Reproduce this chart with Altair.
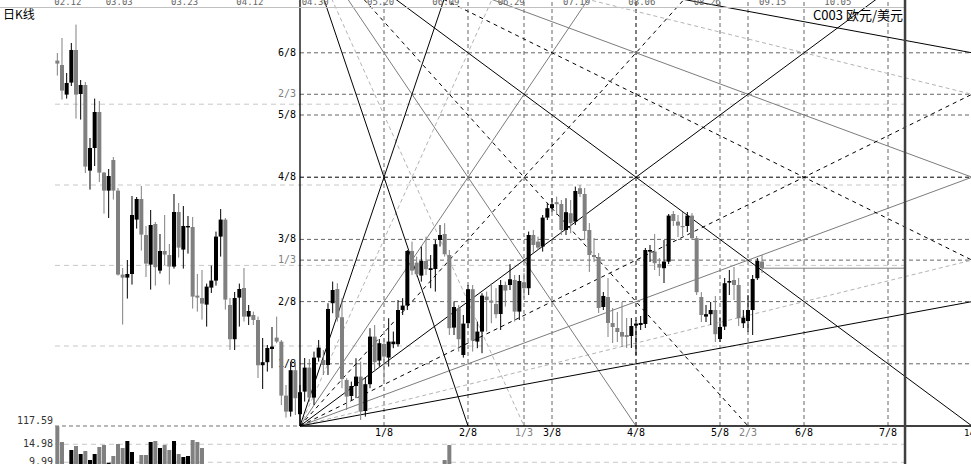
import altair as alt
import pandas as pd

# ---------------- daily bars, EUR/USD ----------------
OPEN = [1.4697, 1.4675, 1.4527, 1.4587, 1.4750, 1.4530, 1.4575, 1.4147, 1.4260, 1.4440,
        1.4137, 1.4047, 1.4200, 1.4047, 1.3627, 1.3612, 1.3630, 1.3902, 1.4005, 1.3825,
        1.3677, 1.3880, 1.3647, 1.3745, 1.3725, 1.3667, 1.3940, 1.3752, 1.3863, 1.3865,
        1.3522, 1.3510, 1.3477, 1.3562, 1.3597, 1.3817, 1.3902, 1.3475, 1.3304, 1.3512,
        1.3560, 1.3417, 1.3425, 1.3400, 1.3174, 1.3189, 1.3255, 1.3312, 1.3292, 1.3022,
        1.2942, 1.3149, 1.2929, 1.3042, 1.3162, 1.3012, 1.3212, 1.3200, 1.3175, 1.3484,
        1.3555, 1.3414, 1.3100, 1.3020, 1.3070, 1.3117, 1.2945, 1.3079, 1.3317, 1.3197,
        1.3280, 1.3212, 1.3279, 1.3279, 1.3450, 1.3472, 1.3745, 1.3687, 1.3622, 1.3695,
        1.3650, 1.3655, 1.3800, 1.3830, 1.3725, 1.3362, 1.3459, 1.3225, 1.3384, 1.3554,
        1.3292, 1.3342, 1.3517, 1.3497, 1.3480, 1.3430, 1.3575, 1.3575, 1.3600, 1.3442,
        1.3589, 1.3559, 1.3825, 1.3792, 1.3767, 1.3912, 1.3959, 1.3989, 1.3980, 1.3850,
        1.3934, 1.3892, 1.4059, 1.4030, 1.3850, 1.3725, 1.3715, 1.3465, 1.3515, 1.3385,
        1.3360, 1.3340, 1.3325, 1.3320, 1.3372, 1.3375, 1.3380, 1.3742, 1.3742, 1.3680,
        1.3659, 1.3692, 1.3930, 1.3892, 1.3870, 1.3870, 1.3922, 1.3809, 1.3515, 1.3417,
        1.3429, 1.3450, 1.3305, 1.3367, 1.3587, 1.3600, 1.3575, 1.3384, 1.3395, 1.3450,
        1.3609, 1.3692]
HIGH = [1.4735, 1.4810, 1.4635, 1.4785, 1.4877, 1.4600, 1.4590, 1.4310, 1.4507, 1.4495,
        1.4140, 1.4155, 1.4215, 1.4060, 1.3660, 1.3700, 1.4020, 1.4015, 1.4070, 1.3870,
        1.3950, 1.3890, 1.3830, 1.3925, 1.3780, 1.4030, 1.3985, 1.3970, 1.3920, 1.3915,
        1.3630, 1.3650, 1.3582, 1.3672, 1.3842, 1.3955, 1.3910, 1.3510, 1.3540, 1.3582,
        1.3660, 1.3475, 1.3442, 1.3417, 1.3310, 1.3275, 1.3365, 1.3417, 1.3300, 1.3075,
        1.3192, 1.3192, 1.3075, 1.3210, 1.3205, 1.3242, 1.3300, 1.3250, 1.3484, 1.3592,
        1.3584, 1.3509, 1.3109, 1.3092, 1.3209, 1.3192, 1.3112, 1.3359, 1.3375, 1.3305,
        1.3309, 1.3409, 1.3342, 1.3500, 1.3509, 1.3750, 1.3792, 1.3717, 1.3767, 1.3817,
        1.3725, 1.3800, 1.3875, 1.3884, 1.3750, 1.3492, 1.3475, 1.3425, 1.3575, 1.3575,
        1.3392, 1.3534, 1.3542, 1.3584, 1.3559, 1.3600, 1.3592, 1.3679, 1.3625, 1.3625,
        1.3634, 1.3842, 1.3850, 1.3817, 1.3925, 1.3984, 1.4010, 1.4017, 1.4000, 1.4009,
        1.4000, 1.4067, 1.4075, 1.4060, 1.3885, 1.3810, 1.3735, 1.3540, 1.3610, 1.3460,
        1.3440, 1.3490, 1.3410, 1.3410, 1.3400, 1.3420, 1.3760, 1.3775, 1.3830, 1.3710,
        1.3800, 1.3930, 1.3945, 1.3925, 1.3940, 1.3940, 1.3935, 1.3820, 1.3540, 1.3475,
        1.3490, 1.3520, 1.3410, 1.3610, 1.3650, 1.3665, 1.3610, 1.3450, 1.3525, 1.3625,
        1.3710, 1.3725]
LOW = [1.4622, 1.4502, 1.4507, 1.4570, 1.4407, 1.4402, 1.4135, 1.4052, 1.4170, 1.4090,
       1.3932, 1.3910, 1.4002, 1.3622, 1.3377, 1.3507, 1.3577, 1.3857, 1.3747, 1.3615,
       1.3552, 1.3572, 1.3632, 1.3675, 1.3577, 1.3657, 1.3712, 1.3657, 1.3732, 1.3457,
       1.3442, 1.3402, 1.3367, 1.3535, 1.3572, 1.3717, 1.3452, 1.3250, 1.3250, 1.3367,
       1.3392, 1.3375, 1.3375, 1.3110, 1.3055, 1.3142, 1.3159, 1.3284, 1.2975, 1.2912,
       1.2917, 1.2925, 1.2870, 1.2992, 1.2992, 1.2975, 1.3192, 1.3125, 1.3125, 1.3434,
       1.3392, 1.3059, 1.2950, 1.3000, 1.3009, 1.2900, 1.2917, 1.3059, 1.3142, 1.3167,
       1.3092, 1.3167, 1.3259, 1.3267, 1.3425, 1.3450, 1.3625, 1.3617, 1.3592, 1.3625,
       1.3559, 1.3542, 1.3767, 1.3717, 1.3325, 1.3325, 1.3242, 1.3212, 1.3359, 1.3242,
       1.3259, 1.3234, 1.3342, 1.3384, 1.3409, 1.3350, 1.3467, 1.3550, 1.3392, 1.3400,
       1.3509, 1.3525, 1.3734, 1.3750, 1.3742, 1.3900, 1.3940, 1.3925, 1.3825, 1.3825,
       1.3834, 1.3875, 1.4015, 1.3800, 1.3640, 1.3690, 1.3435, 1.3450, 1.3315, 1.3285,
       1.3290, 1.3265, 1.3260, 1.3260, 1.3225, 1.3350, 1.3360, 1.3690, 1.3650, 1.3620,
       1.3585, 1.3680, 1.3870, 1.3815, 1.3820, 1.3840, 1.3800, 1.3525, 1.3390, 1.3390,
       1.3375, 1.3290, 1.3290, 1.3350, 1.3525, 1.3500, 1.3370, 1.3360, 1.3340, 1.3325,
       1.3600, 1.3635]
CLOSE = [1.4682, 1.4547, 1.4585, 1.4750, 1.4527, 1.4575, 1.4167, 1.4260, 1.4440, 1.4137,
         1.4047, 1.4120, 1.4047, 1.3627, 1.3612, 1.3630, 1.3925, 1.4005, 1.3827, 1.3682,
         1.3875, 1.3664, 1.3745, 1.3727, 1.3667, 1.3940, 1.3762, 1.3870, 1.3870, 1.3517,
         1.3512, 1.3482, 1.3567, 1.3597, 1.3817, 1.3902, 1.3502, 1.3304, 1.3510, 1.3555,
         1.3417, 1.3445, 1.3400, 1.3174, 1.3189, 1.3260, 1.3267, 1.3292, 1.3022, 1.2942,
         1.3149, 1.3009, 1.3039, 1.3162, 1.3012, 1.3212, 1.3262, 1.3175, 1.3455, 1.3550,
         1.3412, 1.3105, 1.3017, 1.3070, 1.3117, 1.2942, 1.3079, 1.3317, 1.3189, 1.3284,
         1.3217, 1.3292, 1.3292, 1.3450, 1.3472, 1.3745, 1.3647, 1.3629, 1.3695, 1.3654,
         1.3659, 1.3779, 1.3825, 1.3729, 1.3359, 1.3465, 1.3304, 1.3382, 1.3554, 1.3297,
         1.3342, 1.3522, 1.3500, 1.3487, 1.3429, 1.3575, 1.3547, 1.3604, 1.3442, 1.3595,
         1.3559, 1.3825, 1.3775, 1.3762, 1.3912, 1.3959, 1.3979, 1.3979, 1.3850, 1.3939,
         1.3884, 1.4045, 1.4030, 1.3845, 1.3725, 1.3715, 1.3460, 1.3520, 1.3385, 1.3365,
         1.3340, 1.3317, 1.3315, 1.3370, 1.3382, 1.3385, 1.3750, 1.3750, 1.3684, 1.3662,
         1.3692, 1.3922, 1.3895, 1.3872, 1.3864, 1.3922, 1.3809, 1.3539, 1.3425, 1.3429,
         1.3450, 1.3329, 1.3365, 1.3584, 1.3595, 1.3575, 1.3409, 1.3412, 1.3450, 1.3605,
         1.3695, 1.3659]

# volume, only the days that carry a figure
VOL_DAY = [0, 1, 3, 4, 5, 6, 7, 8, 9, 10, 11, 12, 13, 14, 15, 16, 18, 19, 20, 21,
           22, 23, 24, 25, 26, 27, 28, 29, 30, 31, 83, 84]
VOL = [20.00, 15.61, 13.39, 14.50, 12.28, 13.11, 10.62, 12.28, 14.22, 14.77, 9.87, 11.73,
       15.05, 13.94, 15.88, 12.83, 12.00, 12.00, 15.61, 15.88, 13.94, 14.77, 13.39, 15.88,
       12.28, 11.45, 11.73, 16.16, 15.61, 13.94, 10.62, 14.77]

DATE_DAY = [0, 11, 25, 39, 53, 67, 81, 95, 109, 123, 137, 151, 165]
DATE_TEXT = ["02.12", "03.03", "03.23", "04.12", "04.30", "05.20", "06.09",
             "06.29", "07.19", "08.06", "08.26", "09.15", "10.05"]

# Gann square anchored on the low of day 52, 144 bars wide, eight steps tall
G_T0 = 52
G_BARS = 144
G_LOW = 1.2870
G_EIGHTH = 0.0311
G_RANGE = 8 * G_EIGHTH
G_HIGH = G_LOW + G_RANGE

LEVEL_NAMES = ["1/8", "2/8", "1/3", "3/8", "4/8", "5/8", "2/3", "6/8", "7/8"]
LEVEL_FRACS = [1 / 8, 2 / 8, 1 / 3, 3 / 8, 4 / 8, 5 / 8, 2 / 3, 6 / 8, 7 / 8]

FAN_FRACS = [2 / 8, 1 / 3, 4 / 8, 2 / 3]
FAN_STYLES = ["solid", "light", "gray", "dash"]

PRICE_GRID = [1.4479, 1.4075, 1.3673, 1.3270]
VOL_GRID = [14.98, 9.99]
BAR_AREA_END = 181.65  # right edge of the bar area (future space beyond)

# ---------------- scales ----------------
X = alt.Scale(domain=[-12.2857, 195.7857], nice=False, zero=False)
Y = alt.Scale(domain=[1.268, 1.5], nice=False, zero=False)
YV = alt.Scale(domain=[9.509, 138.14], nice=False, zero=False)

BLACK = "#242424"
GRAY = "#858585"
MONO = "DejaVu Sans Mono"

candles = pd.DataFrame({
    "t": list(range(len(OPEN))), "o": OPEN, "h": HIGH, "l": LOW, "c": CLOSE,
})
candles["dir"] = ["up" if c >= o else "down" for o, c in zip(OPEN, CLOSE)]
dir_color = alt.Color("dir:N", scale=alt.Scale(domain=["up", "down"], range=[GRAY, BLACK]),
                      legend=None)

vol = pd.DataFrame({"t": VOL_DAY, "v": VOL, "base": 0.0})
vol["dir"] = [candles.loc[d, "dir"] for d in VOL_DAY]

levels = pd.DataFrame({
    "name": LEVEL_NAMES,
    "p": [G_LOW + f * G_RANGE for f in LEVEL_FRACS],
    "t": [G_T0 + f * G_BARS for f in LEVEL_FRACS],
    "kind": ["mid" if n == "4/8" else ("third" if n.endswith("3") else "eighth")
             for n in LEVEL_NAMES],
    "t0": G_T0, "t1": G_T0 + G_BARS, "p0": G_LOW, "p1": G_HIGH,
})

fan_rows = []
for f, s in zip(FAN_FRACS, FAN_STYLES):
    # from the low corner
    fan_rows.append(dict(t1=G_T0, p1=G_LOW, t2=G_T0 + G_BARS, p2=G_LOW + f * G_RANGE, style=s))
    fan_rows.append(dict(t1=G_T0, p1=G_LOW, t2=G_T0 + f * G_BARS, p2=G_HIGH, style=s))
    # from the high corner
    fan_rows.append(dict(t1=G_T0, p1=G_HIGH, t2=G_T0 + G_BARS, p2=G_HIGH - f * G_RANGE, style=s))
    fan_rows.append(dict(t1=G_T0, p1=G_HIGH, t2=G_T0 + f * G_BARS, p2=G_LOW, style=s))
fan_rows.append(dict(t1=G_T0, p1=G_LOW, t2=G_T0 + G_BARS, p2=G_HIGH, style="solid"))
fan_rows.append(dict(t1=G_T0, p1=G_HIGH, t2=G_T0 + G_BARS, p2=G_LOW, style="solid"))
fan = pd.DataFrame(fan_rows)

STYLE_DEF = {
    "light": ("#b4b4b4", [4, 3]),
    "gray": ("#7c7c7c", None),
    "dash": ("#000000", [4, 4]),
    "solid": ("#000000", None),
}


def rule(data, color, dash=None, width=1.0, opacity=1.0):
    kw = dict(color=color, strokeWidth=width, clip=True, opacity=opacity)
    if dash:
        kw["strokeDash"] = dash
    return alt.Chart(data).mark_rule(**kw)


layers = []

# price grid of the bar area
grid = pd.DataFrame({"p": PRICE_GRID, "a": -0.5, "b": BAR_AREA_END})
layers.append(rule(grid, "#c8c8c8", [5, 4]).encode(
    x=alt.X("a:Q", scale=X, axis=None), x2="b:Q", y=alt.Y("p:Q", scale=Y, axis=None)))

# volume grid and the separator above the volume pane
vgrid = pd.DataFrame({"v": VOL_GRID, "a": -0.5, "b": BAR_AREA_END})
layers.append(rule(vgrid, "#c8c8c8", [5, 4]).encode(
    x=alt.X("a:Q", scale=X, axis=None), x2="b:Q", y=alt.Y("v:Q", scale=YV, axis=None)))
sep = pd.DataFrame({"p": [G_LOW], "a": -0.5, "b": G_T0})
layers.append(rule(sep, "#707070", [4, 3]).encode(
    x=alt.X("a:Q", scale=X, axis=None), x2="b:Q", y=alt.Y("p:Q", scale=Y, axis=None)))

# Gann levels: horizontal and vertical
for kind, color in [("eighth", "#666666"), ("third", "#666666"), ("mid", "#000000")]:
    sub = levels[levels["kind"] == kind]
    layers.append(rule(sub, color, [4, 3]).encode(
        x=alt.X("t0:Q", scale=X, axis=None), x2="t1:Q", y=alt.Y("p:Q", scale=Y, axis=None)))
    layers.append(rule(sub, color, [4, 3]).encode(
        x=alt.X("t:Q", scale=X, axis=None), y=alt.Y("p0:Q", scale=Y, axis=None), y2="p1:Q"))

# Gann fan lines
for style, (color, dash) in STYLE_DEF.items():
    layers.append(rule(fan[fan["style"] == style], color, dash).encode(
        x=alt.X("t1:Q", scale=X, axis=None), y=alt.Y("p1:Q", scale=Y, axis=None),
        x2="t2:Q", y2="p2:Q"))

# square edges: left side and base
edge_l = pd.DataFrame({"t": [G_T0], "p0": [G_LOW], "p1": [G_HIGH]})
layers.append(rule(edge_l, "#000000", width=1.3).encode(
    x=alt.X("t:Q", scale=X, axis=None), y=alt.Y("p0:Q", scale=Y, axis=None), y2="p1:Q"))
edge_b = pd.DataFrame({"p": [G_LOW], "a": [G_T0], "b": [G_T0 + G_BARS]})
layers.append(rule(edge_b, "#000000", width=1.3).encode(
    x=alt.X("a:Q", scale=X, axis=None), x2="b:Q", y=alt.Y("p:Q", scale=Y, axis=None)))

# level labels, left of the square and below it
lab_cols = alt.Color("kind:N", scale=alt.Scale(domain=["eighth", "third", "mid"],
                                               range=["#000000", "#808080", "#000000"]),
                     legend=None)
layers.append(alt.Chart(levels).mark_text(
    align="right", baseline="middle", dx=-4, font=MONO, fontSize=10).encode(
    x=alt.X("t0:Q", scale=X, axis=None), y=alt.Y("p:Q", scale=Y, axis=None),
    text="name:N", color=lab_cols))
layers.append(alt.Chart(levels).mark_text(
    align="center", baseline="middle", dy=7, font=MONO, fontSize=10).encode(
    x=alt.X("t:Q", scale=X, axis=None), y=alt.Y("p0:Q", scale=Y, axis=None),
    text="name:N", color=lab_cols))
end_lab = pd.DataFrame({"t": [G_T0 + G_BARS], "p": [G_LOW], "s": [str(G_BARS)]})
layers.append(alt.Chart(end_lab).mark_text(
    align="left", baseline="middle", dx=-8, dy=7, font=MONO, fontSize=9, color="#000000").encode(
    x=alt.X("t:Q", scale=X, axis=None), y=alt.Y("p:Q", scale=Y, axis=None), text="s:N"))

# last price line
last = pd.DataFrame({"p": [CLOSE[-1]], "a": [len(CLOSE) - 1], "b": [BAR_AREA_END]})
layers.append(rule(last, "#808080").encode(
    x=alt.X("a:Q", scale=X, axis=None), x2="b:Q", y=alt.Y("p:Q", scale=Y, axis=None)))

# volume bars
layers.append(alt.Chart(vol).transform_calculate(
    xa="datum.t - 0.43", xb="datum.t + 0.43").mark_rect(clip=True).encode(
    x=alt.X("xa:Q", scale=X, axis=None), x2="xb:Q",
    y=alt.Y("v:Q", scale=YV, axis=None), y2="base:Q", color=dir_color))

# candlesticks
layers.append(alt.Chart(candles).mark_rule(strokeWidth=1, clip=True).encode(
    x=alt.X("t:Q", scale=X, axis=None), y=alt.Y("l:Q", scale=Y, axis=None), y2="h:Q",
    color=dir_color))
layers.append(alt.Chart(candles).transform_calculate(
    xa="datum.t - 0.43", xb="datum.t + 0.43").mark_rect(clip=True).encode(
    x=alt.X("xa:Q", scale=X, axis=None), x2="xb:Q",
    y=alt.Y("o:Q", scale=Y, axis=None), y2="c:Q", color=dir_color))

# volume pane labels
vlab = pd.DataFrame({"v": VOL_GRID, "s": [f"{v:.2f}" for v in VOL_GRID], "t": -0.9})
layers.append(alt.Chart(vlab).mark_text(
    align="right", baseline="middle", font=MONO, fontSize=10, color="#333333").encode(
    x=alt.X("t:Q", scale=X, axis=None), y=alt.Y("v:Q", scale=YV, axis=None), text="s:N"))
top_lab = pd.DataFrame({"p": [G_LOW], "t": [-0.9], "s": ["117.59"]})
layers.append(alt.Chart(top_lab).mark_text(
    align="right", baseline="middle", dy=-5, font=MONO, fontSize=10, color="#333333").encode(
    x=alt.X("t:Q", scale=X, axis=None), y=alt.Y("p:Q", scale=Y, axis=None), text="s:N"))

# date axis along the top
dates = pd.DataFrame({"t": DATE_DAY, "s": DATE_TEXT})
layers.append(alt.Chart(dates).mark_text(
    align="left", baseline="alphabetic", dx=-3, font=MONO, fontSize=9, color="#666666").encode(
    x=alt.X("t:Q", scale=X, axis=None), y=alt.value(5), text="s:N"))
layers.append(alt.Chart(pd.DataFrame({"a": [-12.2857], "b": [BAR_AREA_END]})).mark_rule(
    color="#c0c0c0", strokeWidth=1).encode(
    x=alt.X("a:Q", scale=X, axis=None), x2="b:Q", y=alt.value(7.5)))

# right edge of the bar area
layers.append(alt.Chart(pd.DataFrame({"t": [BAR_AREA_END]})).mark_rule(
    color="#404040", strokeWidth=2.5).encode(
    x=alt.X("t:Q", scale=X, axis=None), y=alt.value(0), y2=alt.value(464)))

# titles
layers.append(alt.Chart(pd.DataFrame({"s": ["日K线"]})).mark_text(
    align="left", baseline="middle", font="Noto Sans CJK SC", fontSize=12, color="#000000").encode(
    x=alt.value(3), y=alt.value(15), text="s:N"))
layers.append(alt.Chart(pd.DataFrame({"s": ["C003 欧元/美元"]})).mark_text(
    align="right", baseline="middle", font="Noto Sans CJK SC", fontSize=13, color="#000000").encode(
    x=alt.value(903), y=alt.value(16), text="s:N"))

chart = alt.layer(*layers).resolve_scale(y="independent").properties(
    width=971, height=464, padding=0, autosize="none", background="white"
).configure_view(stroke=None)

chart.save("out.html", embed_options={"renderer": "svg", "actions": False})
